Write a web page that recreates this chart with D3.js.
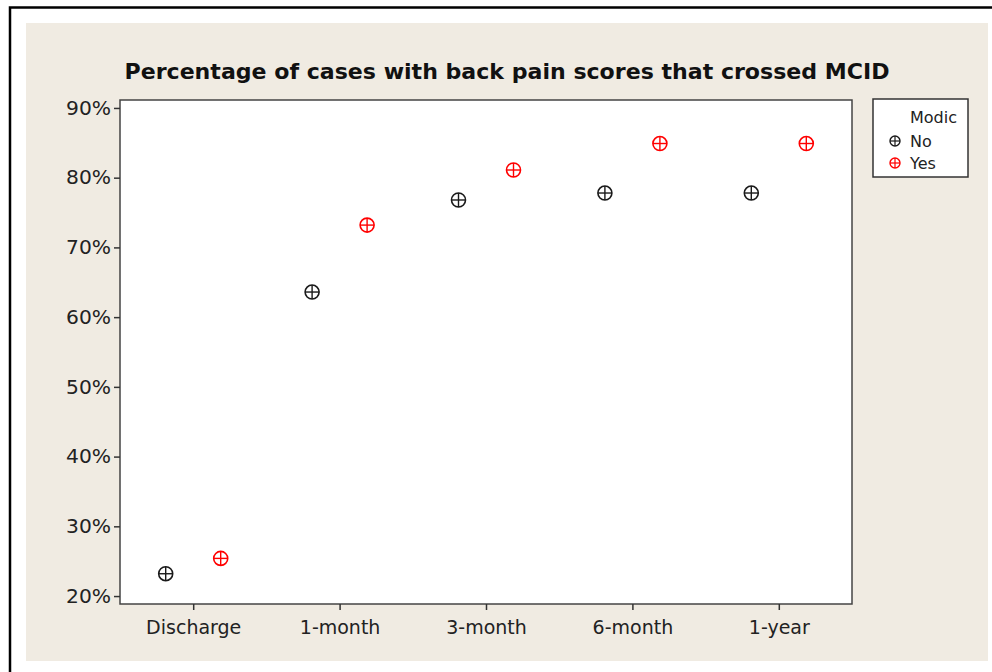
<!DOCTYPE html>
<html><head><meta charset="utf-8">
<script src="https://cdn.jsdelivr.net/npm/d3@7"></script>
<style>body{margin:0;background:#fff}svg{display:block}</style>
</head><body>
<svg id="c" width="992" height="672"></svg>
<script>
const categories = ["Discharge","1-month","3-month","6-month","1-year"];
const seriesNames = ["No","Yes"];
const noValues  = [23.2, 63.6, 76.8, 77.8, 77.8];
const yesValues = [25.4, 73.2, 81.1, 84.9, 84.9];
const yTicks = [20,30,40,50,60,70,80,90];
const colors = ["#1a1a1a","#ff0000"];
const title = "Percentage of cases with back pain scores that crossed MCID";

const svg = d3.select("#c");
const font = "'DejaVu Sans', Verdana, sans-serif";
// outer frame
svg.append("rect").attr("x",10).attr("y",7.5).attr("width",990).attr("height",680)
  .attr("fill","#fff").attr("stroke","#000").attr("stroke-width",2.5);
svg.append("rect").attr("x",26).attr("y",23).attr("width",962).attr("height",638).attr("fill","#f0ebe2");

const m = {l:120, t:100, r:852, b:604};
svg.append("rect").attr("x",m.l).attr("y",m.t).attr("width",m.r-m.l).attr("height",m.b-m.t)
  .attr("fill","#fff").attr("stroke","#444").attr("stroke-width",1.5);

const x = d3.scalePoint().domain(categories).range([m.l,m.r]).padding(0.5);
const y = d3.scaleLinear().domain([18.86,91.14]).range([m.b,m.t]);
const dodge = 27.5;

const yAxis = svg.append("g").attr("transform",`translate(${m.l},0)`)
  .call(d3.axisLeft(y).tickValues(yTicks).tickFormat(d=>d+"%").tickSize(6).tickPadding(3));
yAxis.select(".domain").remove();
yAxis.selectAll("line").attr("stroke","#333").attr("stroke-width",1.5);
yAxis.selectAll("text").attr("font-family",font).attr("font-size",19.5).attr("fill","#222")
  .attr("textLength",45).attr("lengthAdjust","spacingAndGlyphs");

const xAxis = svg.append("g").attr("transform",`translate(0,${m.b})`)
  .call(d3.axisBottom(x).tickSize(6).tickPadding(11));
xAxis.select(".domain").remove();
xAxis.selectAll("line").attr("stroke","#333").attr("stroke-width",1.5);
xAxis.selectAll("text").attr("font-family",font).attr("font-size",19).attr("fill","#222");

svg.append("text").attr("x",507).attr("y",79).attr("text-anchor","middle")
  .attr("font-family",font).attr("font-weight","bold").attr("font-size",22).attr("fill","#111")
  .attr("textLength",765).attr("lengthAdjust","spacingAndGlyphs")
  .text(title);

function marker(g, cx, cy, col){
  const r = 7;
  g.append("circle").attr("cx",cx).attr("cy",cy).attr("r",r).attr("fill","none").attr("stroke",col).attr("stroke-width",1.6);
  g.append("line").attr("x1",cx-r).attr("x2",cx+r).attr("y1",cy).attr("y2",cy).attr("stroke",col).attr("stroke-width",1.4);
  g.append("line").attr("x1",cx).attr("x2",cx).attr("y1",cy-r).attr("y2",cy+r).attr("stroke",col).attr("stroke-width",1.4);
}
const pts = svg.append("g");
[noValues, yesValues].forEach((vals,si)=>{
  vals.forEach((v,i)=>{
    marker(pts, x(categories[i]) + (si===0?-dodge:dodge), y(v), colors[si]);
  });
});

// legend
const lg = svg.append("g");
lg.append("rect").attr("x",873).attr("y",99).attr("width",95).attr("height",78)
  .attr("fill","#fff").attr("stroke","#333").attr("stroke-width",1.5);
lg.append("text").attr("x",910).attr("y",123).attr("font-family",font).attr("font-size",16).attr("fill","#222").text("Modic");
seriesNames.forEach((s,i)=>{
  const cy = 141 + i*22;
  const g = lg.append("g");
  const r=5;
  g.append("circle").attr("cx",895).attr("cy",cy).attr("r",r).attr("fill","none").attr("stroke",colors[i]).attr("stroke-width",1.4);
  g.append("line").attr("x1",895-r).attr("x2",895+r).attr("y1",cy).attr("y2",cy).attr("stroke",colors[i]).attr("stroke-width",1.2);
  g.append("line").attr("x1",895).attr("x2",895).attr("y1",cy-r).attr("y2",cy+r).attr("stroke",colors[i]).attr("stroke-width",1.2);
  lg.append("text").attr("x",910).attr("y",cy+6).attr("font-family",font).attr("font-size",16).attr("fill","#222").text(s);
});
</script>
</body></html>
